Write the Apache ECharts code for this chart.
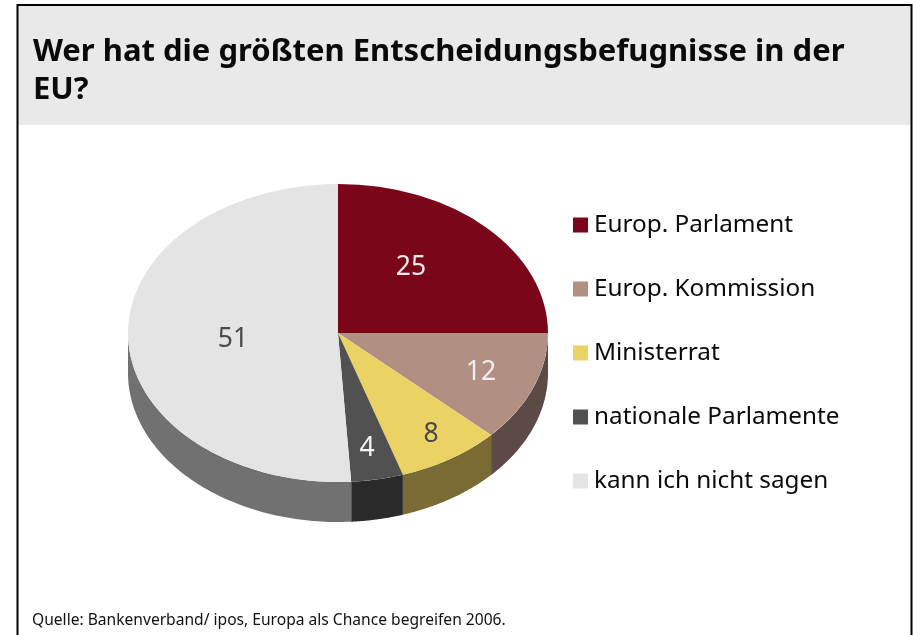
<!DOCTYPE html>
<html lang="de">
<head>
    <meta charset="UTF-8">
    <title>Wer hat die größten Entscheidungsbefugnisse in der EU?</title>
    <style>
        html, body { margin: 0; padding: 0; background: #fff; }
        #chart { width: 913px; height: 635px; }
    </style>
</head>
<body>
<div id="chart"></div>
<script src="https://cdn.jsdelivr.net/npm/echarts@6/dist/echarts.min.js"></script>
<script>
    // Daten
    var categories = ['Europ. Parlament', 'Europ. Kommission', 'Ministerrat', 'nationale Parlamente', 'kann ich nicht sagen'];
    var values = [25, 12, 8, 4, 51];

    // Farben
    var topColors = ['#7b0519', '#b18f82', '#ebd264', '#515151', '#e4e4e4'];
    var wallColors = ['#4a030f', '#5b4a45', '#7a6a34', '#2a2a2a', '#717171'];
    var labelColors = ['#f0e9e9', '#f0eeee', '#4a4a4a', '#f4f4f4', '#4a4a4a'];

    // Layout der Torte
    var cx = 338, cy = 333, rx = 210, ry = 149, depth = 40;
    var labelOffset = [[73, -66], [143, 39], [93, 101], [29, 115], [-105, 6]];
    var fontName = '"Noto Sans", sans-serif';

    var total = values.reduce(function (a, b) { return a + b; }, 0);

    function sliceAngles(index) {
        var before = 0;
        for (var i = 0; i < index; i++) before += values[i];
        var start = -Math.PI / 2 + before / total * Math.PI * 2;
        return [start, start + values[index] / total * Math.PI * 2];
    }

    // sichtbare Seitenwand: nur die untere Hälfte der Ellipse
    function wallPoints(a0, a1) {
        var from = Math.max(a0, 0), to = Math.min(a1, Math.PI);
        if (to <= from) return null;
        var pts = [], steps = 80, i, a;
        for (i = 0; i <= steps; i++) {
            a = from + (to - from) * i / steps;
            pts.push([cx + rx * Math.cos(a), cy + ry * Math.sin(a)]);
        }
        for (i = steps; i >= 0; i--) {
            a = from + (to - from) * i / steps;
            pts.push([cx + rx * Math.cos(a), cy + ry * Math.sin(a) + depth]);
        }
        return pts;
    }

    function makeRenderItem(index) {
        return function (params, api) {
            var angles = sliceAngles(index);
            var children = [];
            var pts = wallPoints(angles[0], angles[1]);
            if (pts) {
                children.push({
                    type: 'polygon',
                    shape: { points: pts },
                    style: { fill: wallColors[index] }
                });
            }
            children.push({
                type: 'group',
                x: cx,
                y: cy,
                scaleY: ry / rx,
                children: [{
                    type: 'sector',
                    shape: { cx: 0, cy: 0, r0: 0, r: rx, startAngle: angles[0], endAngle: angles[1], clockwise: true },
                    style: { fill: topColors[index] }
                }]
            });
            children.push({
                type: 'text',
                x: cx + labelOffset[index][0],
                y: cy + labelOffset[index][1],
                style: {
                    text: String(api.value(0)),
                    fill: labelColors[index],
                    font: '26.5px ' + fontName,
                    align: 'center',
                    verticalAlign: 'middle'
                }
            });
            return { type: 'group', children: children };
        };
    }

    var series = categories.map(function (name, i) {
        return {
            name: name,
            type: 'custom',
            coordinateSystem: 'none',
            silent: true,
            itemStyle: { color: topColors[i] },
            renderItem: makeRenderItem(i),
            data: [[values[i]]]
        };
    });

    var chart = echarts.init(document.getElementById('chart'), null, { renderer: 'canvas' });
    chart.setOption({
        animation: false,
        backgroundColor: '#fff',
        title: [{
            text: 'Wer hat die größten Entscheidungsbefugnisse in der\nEU?',
            left: 28,
            top: 28,
            textStyle: { fontFamily: fontName, fontSize: 31, fontWeight: 'bold', color: '#0a0a0a', lineHeight: 38 }
        }, {
            text: 'Quelle: Bankenverband/ ipos, Europa als Chance begreifen 2006.',
            left: 27,
            top: 608,
            textStyle: { fontFamily: fontName, fontSize: 15.6, fontWeight: 'normal', color: '#111' }
        }],
        legend: {
            orient: 'vertical',
            left: 573,
            top: 213,
            padding: 0,
            icon: 'rect',
            itemWidth: 15,
            itemHeight: 15,
            itemGap: 40,
            selectedMode: false,
            textStyle: { fontFamily: fontName, fontSize: 24.3, color: '#0a0a0a', padding: [0, 0, 0, 1] },
            data: categories
        },
        graphic: [{
            type: 'rect',
            z: -10,
            shape: { x: 18, y: 5, width: 893, height: 120 },
            style: { fill: '#e9e9e9' }
        }, {
            type: 'rect',
            z: -9,
            shape: { x: 17.5, y: 5, width: 894, height: 660 },
            style: { fill: 'none', stroke: '#000', lineWidth: 2 }
        }],
        series: series
    });
</script>
</body>
</html>
